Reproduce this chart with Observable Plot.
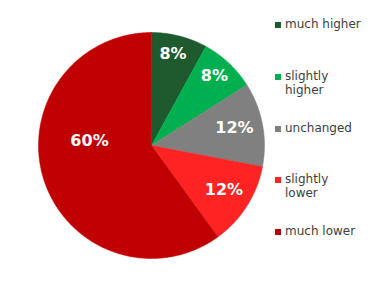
<!DOCTYPE html>
<html><head><meta charset="utf-8">
<script src="https://cdn.jsdelivr.net/npm/d3@7"></script>
<script src="https://cdn.jsdelivr.net/npm/@observablehq/plot@0.6"></script>
<style>
body{margin:0;background:#fff;}
#wrap{position:relative;width:388px;height:281px;font-family:"DejaVu Sans",Verdana,sans-serif;}
#wrap svg{position:absolute;left:0;top:0;}
.item{position:absolute;left:275px;font-size:12px;line-height:14px;color:#404040;white-space:nowrap;}
.sw{position:absolute;left:0;top:5px;width:6px;height:6px;}
.txt{position:absolute;left:10px;top:0;}
</style></head><body><div id="wrap"></div>
<script>
const categories = ["much higher", "slightly higher", "unchanged", "slightly lower", "much lower"];
const values = [8, 8, 12, 12, 60];
const labels = ["8%", "8%", "12%", "12%", "60%"];
const colors = ["#1e5a2e", "#00b050", "#808080", "#ff2323", "#c00000"];
const legendLines = [["much higher"], ["slightly", "higher"], ["unchanged"], ["slightly", "lower"], ["much lower"]];

const data = categories.map((c, i) => ({category: c, value: values[i], label: labels[i]}));
const total = d3.sum(values);
const arcs = d3.pie().sort(null).value(d => d.value)(data);

// y grows downward in the identity projection: top of the pie is y = -1
const slices = arcs.map(a => {
  const n = Math.max(8, Math.ceil((a.endAngle - a.startAngle) / 0.01));
  const ring = [[0, 0]];
  for (let k = 0; k <= n; k++) {
    const t = a.startAngle + (a.endAngle - a.startAngle) * k / n;
    ring.push([Math.sin(t), -Math.cos(t)]);
  }
  ring.push([0, 0]);
  return {category: a.data.category, geom: {type: "Polygon", coordinates: [ring]}};
});

const labelPts = arcs.map(a => {
  const f = a.data.value / total;
  const big = f > 0.5;
  const ang = big ? 1.5 * Math.PI + 0.07 : (a.startAngle + a.endAngle) / 2 - 0.02;
  const r = big ? 0.55 : 0.83 - 0.08 * (a.data.label.length - 2);
  return {label: a.data.label, lx: r * Math.sin(ang), ly: -r * Math.cos(ang)};
});

const chart = Plot.plot({
  width: 388, height: 281,
  marginLeft: 38, marginRight: 124, marginTop: 32, marginBottom: 23,
  projection: {type: "identity", domain: {type: "MultiPoint", coordinates: [[-1, -1], [1, 1]]}},
  color: {domain: categories, range: colors},
  marks: [
    Plot.geo(slices, {geometry: d => d.geom, fill: "category", stroke: "category", strokeWidth: 0.5}),
    Plot.text(labelPts, {x: "lx", y: "ly", text: "label", fill: "white", fontWeight: "bold", fontSize: 16, fontFamily: "DejaVu Sans"})
  ]
});
const wrap = document.getElementById("wrap");
wrap.appendChild(chart);

legendLines.forEach((lines, i) => {
  const item = document.createElement("div");
  item.className = "item";
  item.style.top = (17 + i * 51.75) + "px";
  const sw = document.createElement("div");
  sw.className = "sw";
  sw.style.background = colors[i];
  const tx = document.createElement("div");
  tx.className = "txt";
  tx.innerHTML = lines.join("<br>");
  item.appendChild(sw); item.appendChild(tx);
  wrap.appendChild(item);
});
</script></body></html>
